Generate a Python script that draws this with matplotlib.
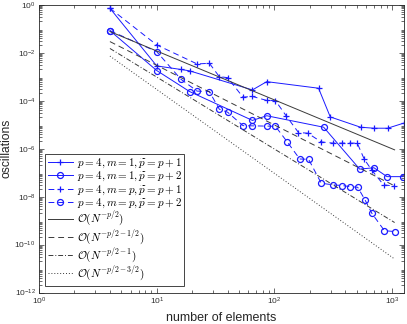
import matplotlib.pyplot as plt
from matplotlib.ticker import LogLocator, NullFormatter
from matplotlib.font_manager import FontProperties

plt.rcParams['font.family'] = ['Liberation Sans', 'DejaVu Sans']
plt.rcParams['mathtext.fontset'] = 'custom'
plt.rcParams['mathtext.rm'] = 'Liberation Sans'
plt.rcParams['mathtext.it'] = 'Liberation Sans:italic'

# p=4, m=1, p~=p+1
n_a = [4, 10, 16, 19, 65, 86, 237, 298, 540, 700, 915, 1250]
v_a = [0.71, 2.8e-3, 2.0e-3, 1.75e-3, 2.8e-4, 6.2e-4, 3.3e-4, 2.1e-5, 7.8e-6, 7.1e-6, 7.1e-6, 1.15e-5]
# p=4, m=1, p~=p+2
n_b = [4, 10, 19, 65, 86, 262, 530, 700, 905, 1240]
v_b = [0.083, 1.8e-3, 2.4e-4, 1.5e-5, 2.35e-5, 7.8e-6, 1.4e-7, 1.6e-7, 6.8e-8, 6.8e-8]
# p=4, m=p, p~=p+1
n_c = [4, 10, 22, 28, 34, 40, 54, 65, 86, 102, 126, 160, 192, 250, 314, 375, 441, 505,
       580, 673, 845, 1045]
v_c = [0.71, 0.021, 3.4e-3, 3.6e-3, 1.0e-3, 9.1e-4, 1.4e-4, 1.5e-4, 1.02e-4, 1.0e-4,
       2.3e-5, 4.7e-6, 4.4e-6, 1.9e-6, 1.7e-6, 1.7e-6, 1.7e-6, 1.7e-6,
       3.6e-7, 1.25e-7, 3.1e-8, 2.75e-8]
# p=4, m=p, p~=p+2
n_d = [4, 10, 16, 22, 28, 34, 40, 54, 65, 86, 102, 128, 164, 195, 250, 314, 375, 440,
       510, 590, 673, 860, 1050]
v_d = [0.083, 0.011, 7.9e-4, 2.5e-4, 2.4e-4, 4.4e-5, 3.3e-5, 9.1e-6, 8.9e-6, 8.7e-6,
       8.5e-6, 1.95e-6, 3.7e-7, 3.6e-7, 3.6e-8, 3.1e-8, 2.9e-8, 2.6e-8,
       2.45e-8, 7.1e-9, 2.0e-9, 3.8e-10, 3.5e-10]

# reference slopes, endpoints
n_ref = [4, 1050]
ref_0 = [7.6e-2, 8.9e-7]
ref_1 = [2.9e-2, 2.8e-8]
ref_2 = [1.5e-2, 8.3e-10]
ref_3 = [7.2e-3, 2.5e-11]

fig = plt.figure(figsize=(4.07, 3.24), dpi=100)
ax = fig.add_axes([0.096, 0.097, 0.8965, 0.8885])

blue = '#1a1aff'
ax.plot(n_a, v_a, '-', color=blue, lw=0.7, marker='+', ms=5, mew=0.9,
        label=r'$p=4, m=1, \widetilde{p}=p+1$')
ax.plot(n_b, v_b, '-', color=blue, lw=0.7, marker='o', ms=4.3, mew=0.9, mfc='none',
        label=r'$p=4, m=1, \widetilde{p}=p+2$')
ax.plot(n_c, v_c, '--', color=blue, lw=0.7, marker='+', ms=5, mew=0.9, dashes=(6, 4),
        label=r'$p=4, m=p, \widetilde{p}=p+1$')
ax.plot(n_d, v_d, '--', color=blue, lw=0.7, marker='o', ms=4.3, mew=0.9, mfc='none', dashes=(6, 4),
        label=r'$p=4, m=p, \widetilde{p}=p+2$')

grey = '#3a3a3a'
ax.plot(n_ref, ref_0, '-', color=grey, lw=0.7, label=r'$\mathcal{O}(N^{-p/2})$')
ax.plot(n_ref, ref_1, '--', color=grey, lw=0.7, dashes=(6, 4), label=r'$\mathcal{O}(N^{-p/2-1/2})$')
ax.plot(n_ref, ref_2, '-.', color=grey, lw=0.7, dashes=(5, 2, 1, 2), label=r'$\mathcal{O}(N^{-p/2-1})$')
ax.plot(n_ref, ref_3, ':', color=grey, lw=0.7, dashes=(1, 2), label=r'$\mathcal{O}(N^{-p/2-3/2})$')

ax.set_xscale('log')
ax.set_yscale('log')
ax.set_xlim(1, 1260)
ax.set_ylim(1e-12, 1)
ax.set_xticks([1, 10, 100, 1000])
ax.set_yticks([1e-12, 1e-10, 1e-8, 1e-6, 1e-4, 1e-2, 1])
ax.xaxis.set_minor_locator(LogLocator(base=10, subs=range(2, 10), numticks=20))
ax.yaxis.set_minor_locator(LogLocator(base=10, subs=range(2, 10), numticks=30))
ax.xaxis.set_minor_formatter(NullFormatter())
ax.yaxis.set_minor_formatter(NullFormatter())
ax.tick_params(which='both', direction='in', top=True, right=True, colors='#303030',
               labelsize=6, width=0.5, pad=2.5)
ax.tick_params(which='major', length=3.5)
ax.tick_params(which='minor', length=2)
for spine in ax.spines.values():
    spine.set_linewidth(0.6)
    spine.set_color('#262626')

ax.set_xlabel('number of elements', fontsize=9, color='#262626')
ax.set_ylabel('oscillations', fontsize=8.7, color='#262626')
ax.xaxis.set_label_coords(0.5, -0.066)
ax.yaxis.set_label_coords(-0.074, 0.5)

leg_font = FontProperties(size=8.0, math_fontfamily='cm')
leg = ax.legend(loc='lower left', bbox_to_anchor=(0.016, 0.023), prop=leg_font,
                handlelength=2.3, handletextpad=0.3, labelspacing=0.0,
                borderpad=0.25, borderaxespad=0, fancybox=False, framealpha=1)
leg.get_frame().set_edgecolor('#262626')
leg.get_frame().set_linewidth(0.6)

plt.savefig('out.png', dpi=100)
